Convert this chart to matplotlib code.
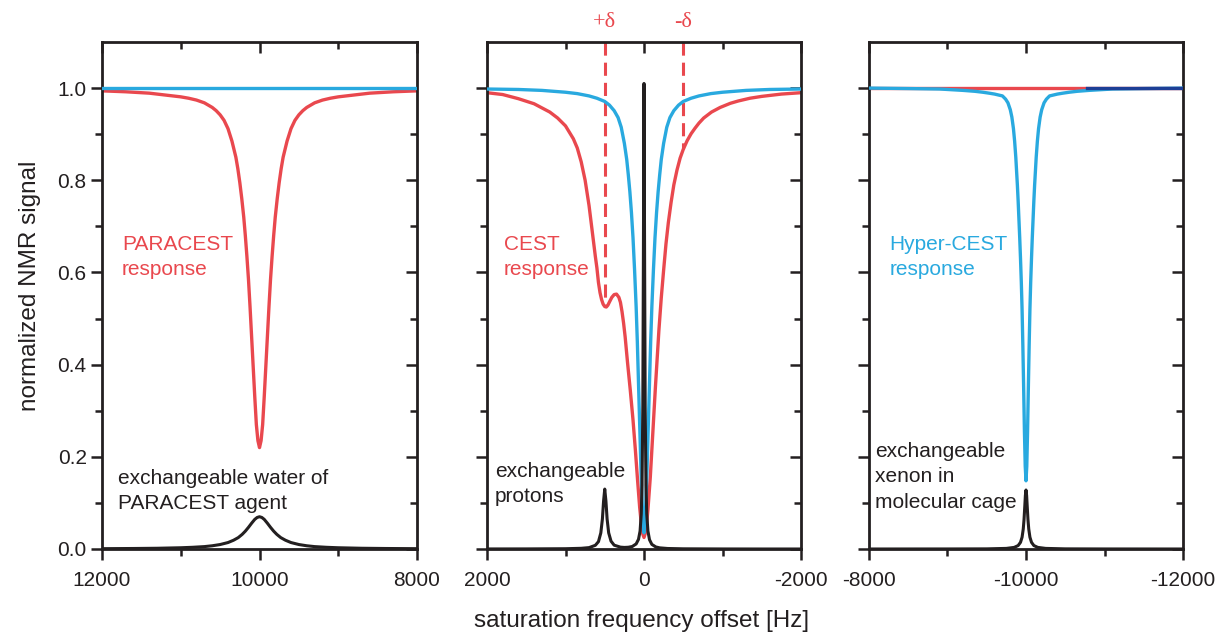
import matplotlib
matplotlib.use('Agg')
import matplotlib.pyplot as plt

plt.rcParams['font.family'] = ['Liberation Sans', 'DejaVu Sans']
plt.rcParams['axes.unicode_minus'] = False

RED = '#e9484e'
BLUE = '#29a9df'
NAVY = '#1d3f96'
INK = '#231f20'

# --- PARACEST panel (Hz, normalized signal) ---
para_hz = [12000, 11700, 11400, 11200, 11000, 10900, 10800, 10700, 10600, 10550,
           10500, 10450, 10400, 10350, 10300, 10275, 10250, 10225, 10200, 10180,
           10160, 10140, 10120, 10100, 10080, 10060, 10040, 10020, 10000,
           9980, 9960, 9940, 9920, 9900, 9880, 9860, 9840, 9820, 9800,
           9775, 9750, 9725, 9700, 9650, 9600, 9550, 9500, 9450, 9400,
           9300, 9200, 9100, 9000, 8800, 8600, 8300, 8000]
para_resp = [0.994, 0.992, 0.989, 0.985, 0.981, 0.978, 0.974, 0.968, 0.958, 0.951,
             0.942, 0.93, 0.912, 0.885, 0.85, 0.825, 0.795, 0.76, 0.72, 0.68,
             0.635, 0.585, 0.525, 0.46, 0.395, 0.33, 0.27, 0.235, 0.22,
             0.235, 0.27, 0.33, 0.395, 0.46, 0.525, 0.585, 0.635, 0.68, 0.72,
             0.76, 0.795, 0.825, 0.85, 0.885, 0.912, 0.93, 0.942, 0.951, 0.958,
             0.968, 0.974, 0.978, 0.981, 0.985, 0.989, 0.992, 0.994]
para_flat_hz = [12000, 8000]
para_flat = [1.0, 1.0]
agent_hz = [12000, 11600, 11300, 11000, 10850, 10700, 10600, 10500, 10400, 10330, 10270, 10220,
            10180, 10140, 10100, 10060, 10030, 10000, 9970, 9940, 9900, 9860, 9820, 9780, 9730,
            9670, 9600, 9500, 9400, 9300, 9150, 9000, 8700, 8400, 8000]
agent = [0.0007, 0.0011, 0.0016, 0.0027, 0.0037, 0.0052, 0.007, 0.0097, 0.014, 0.019, 0.0247, 0.0317,
         0.0387, 0.047, 0.056, 0.0643, 0.0684, 0.07, 0.0684, 0.0643, 0.056, 0.047, 0.0387, 0.0317,
         0.0247, 0.019, 0.014, 0.0097, 0.007, 0.0052, 0.0037, 0.0027, 0.0016, 0.0011, 0.0007]

# --- CEST panel ---
water_hz = [2000, 1600, 1300, 1000, 850, 700, 600, 500, 440, 380, 330, 290, 250, 220, 200, 180,
            160, 140, 120, 100, 85, 70, 55, 40, 25, 12, 0,
            -12, -25, -40, -55, -70, -85, -100, -120, -140, -160, -180, -200, -220, -250, -290,
            -330, -380, -440, -500, -600, -700, -850, -1000, -1300, -1600, -2000]
water = [0.998, 0.997, 0.995, 0.991, 0.988, 0.983, 0.978, 0.971, 0.963, 0.951, 0.936, 0.915, 0.88,
         0.845, 0.812, 0.775, 0.73, 0.675, 0.605, 0.525, 0.45, 0.36, 0.27, 0.18, 0.105, 0.058, 0.035,
         0.058, 0.105, 0.18, 0.27, 0.36, 0.45, 0.525, 0.605, 0.675, 0.73, 0.775, 0.812, 0.845, 0.88,
         0.915, 0.936, 0.951, 0.963, 0.971, 0.978, 0.983, 0.988, 0.991, 0.995, 0.997, 0.998]
cest_hz = [2000, 1800, 1600, 1400, 1200, 1100, 1000, 900, 850, 800, 750, 700, 660, 620, 600, 580,
           560, 540, 520, 500, 480, 460, 440, 410, 380, 350, 320, 300, 280, 260, 240, 210, 175,
           140, 110, 80, 55, 30, 15, 0, -15, -30, -50, -80, -110, -145, -190, -220, -250, -280,
           -310, -345, -380, -420, -460, -500, -550, -600, -650, -700, -760, -860, -970, -1100,
           -1200, -1350, -1500, -1750, -2000]
cest_resp = [0.99, 0.986, 0.977, 0.966, 0.948, 0.935, 0.918, 0.89, 0.87, 0.84, 0.80, 0.745, 0.69,
             0.635, 0.61, 0.578, 0.556, 0.541, 0.531, 0.526, 0.525, 0.529, 0.536, 0.546, 0.552,
             0.553, 0.546, 0.535, 0.515, 0.49, 0.46, 0.405, 0.345, 0.28, 0.215, 0.145, 0.09, 0.048,
             0.032, 0.025, 0.033, 0.05, 0.085, 0.155, 0.245, 0.35, 0.475, 0.545, 0.605, 0.662,
             0.708, 0.752, 0.79, 0.822, 0.848, 0.867, 0.886, 0.901, 0.913, 0.924, 0.935, 0.948,
             0.958, 0.967, 0.972, 0.978, 0.982, 0.987, 0.99]
proton_hz = [2000, 1500, 1000, 800, 700, 620, 580, 550, 530, 515, 500, 485, 470, 450, 420, 380, 300,
             250, 200, 150, 100, 70, 50, 35, 25, 15, 8, 0, -8, -15, -25, -35, -50, -70, -100, -150,
             -200, -300, -500, -1000, -1500, -2000]
protons = [0.0001, 0.0002, 0.0006, 0.0015, 0.003, 0.008, 0.016, 0.035, 0.065, 0.104, 0.13, 0.104,
           0.065, 0.035, 0.017, 0.0083, 0.004, 0.0034, 0.0038, 0.0054, 0.011, 0.021, 0.039, 0.076,
           0.139, 0.31, 0.616, 1.01, 0.616, 0.31, 0.139, 0.076, 0.039, 0.0202, 0.01, 0.0045, 0.0025,
           0.0011, 0.0004, 0.0001, 0.0, 0.0]
delta_hz = [500, -500]
delta_floor = [0.526, 0.867]
delta_text = ['+δ', '-δ']

# --- Hyper-CEST panel ---
xe_hz = [-8000, -8500, -8900, -9100, -9200, -9350, -9450, -9530, -9600, -9650, -9700, -9740, -9770,
         -9800, -9820, -9840, -9855, -9870, -9880, -9890, -9900, -9910, -9920, -9930, -9940, -9950,
         -9960, -9970, -9980, -9990, -10000,
         -10010, -10020, -10030, -10040, -10050, -10060, -10070, -10080, -10090, -10100, -10110,
         -10120, -10130, -10145, -10160, -10180, -10200, -10230, -10260, -10300, -10350, -10400,
         -10470, -10550, -10650, -10800, -10900, -11100, -11500, -12000]
hyper = [1.0, 0.999, 0.998, 0.996, 0.995, 0.993, 0.991, 0.989, 0.987, 0.985, 0.983, 0.976, 0.968,
         0.953, 0.937, 0.912, 0.885, 0.85, 0.82, 0.79, 0.755, 0.715, 0.675, 0.63, 0.58, 0.52,
         0.44, 0.35, 0.255, 0.18, 0.148,
         0.18, 0.255, 0.35, 0.44, 0.52, 0.58, 0.63, 0.675, 0.715, 0.755, 0.79,
         0.82, 0.85, 0.885, 0.912, 0.937, 0.953, 0.968, 0.976, 0.983, 0.985, 0.987,
         0.989, 0.991, 0.993, 0.995, 0.996, 0.998, 0.999, 1.0]
xe_flat_hz = [-8000, -12000]
xe_flat = [1.0, 1.0]
xe_dark_hz = [-10780, -12000]
xe_dark = [1.0, 1.0]
cage_hz = [-8000, -9000, -9500, -9750, -9850, -9900, -9930, -9950, -9965, -9975, -9985, -9992, -10000,
           -10008, -10015, -10025, -10035, -10050, -10070, -10100, -10150, -10250, -10500, -11000, -12000]
cage = [0.0, 0.0001, 0.0003, 0.0013, 0.0035, 0.0075, 0.0145, 0.0256, 0.0433, 0.064, 0.094, 0.116,
        0.128, 0.116, 0.094, 0.064, 0.0433, 0.0256, 0.0145, 0.0075, 0.0035, 0.0013, 0.0003, 0.0001, 0.0]

y_major = [0.0, 0.2, 0.4, 0.6, 0.8, 1.0]
y_minor = [0.1, 0.3, 0.5, 0.7, 0.9]

fig = plt.figure(figsize=(12.21, 6.44), dpi=100)
W, H = 1221.0, 644.0
bottom, height = 1 - 549 / H, 507 / H
ax1 = fig.add_axes([102 / W, bottom, 315 / W, height])
ax2 = fig.add_axes([487 / W, bottom, 314 / W, height])
ax3 = fig.add_axes([869 / W, bottom, 314 / W, height])


def style_axis(ax, xlim, xmajor, xminor, xlabels, show_y):
    ax.set_xlim(*xlim)
    ax.set_ylim(0, 1.1)
    ax.set_xticks(xmajor)
    ax.set_xticklabels(xlabels)
    ax.set_xticks(xminor, minor=True)
    ax.set_yticks(y_major)
    ax.set_yticklabels(['%.1f' % v for v in y_major])
    ax.set_yticks(y_minor, minor=True)
    for s in ax.spines.values():
        s.set_linewidth(2.0)
        s.set_color(INK)
    ax.tick_params(which='both', direction='out', width=1.8, color=INK, labelcolor=INK, labelsize=15)
    ax.tick_params(which='major', length=8)
    ax.tick_params(which='minor', length=5)
    ax.tick_params(axis='x', pad=8)
    ax.tick_params(axis='y', pad=3, labelleft=show_y)

    # ticks on top and right point inward
    top = ax.secondary_xaxis('top')
    top.set_xticks(xmajor)
    top.set_xticks(xminor, minor=True)
    top.tick_params(which='both', direction='in', width=1.8, color=INK, labeltop=False)
    top.tick_params(which='major', length=8)
    top.tick_params(which='minor', length=5)
    top.spines['top'].set_visible(False)
    right = ax.secondary_yaxis('right')
    right.set_yticks(y_major)
    right.set_yticks(y_minor, minor=True)
    right.tick_params(which='both', direction='in', width=1.8, color=INK, labelright=False)
    right.tick_params(which='major', length=8)
    right.tick_params(which='minor', length=5)
    right.spines['right'].set_visible(False)


def yb(py):
    # baseline height in data units from a pixel row
    return (549 - py) / 459.0


# PARACEST
ax1.plot(para_hz, para_resp, color=RED, lw=2.4, zorder=2)
ax1.plot(para_flat_hz, para_flat, color=BLUE, lw=2.4, zorder=3)
ax1.plot(agent_hz, agent, color=INK, lw=2.2, zorder=4)
style_axis(ax1, (12000, 8000), [12000, 10000, 8000], [11000, 9000], ['12000', '10000', '8000'], True)
ax1.text(11746, yb(251), 'PARACEST', color=RED, fontsize=15, va='baseline')
ax1.text(11746, yb(276), 'response', color=RED, fontsize=15, va='baseline')
ax1.text(11797, yb(484.5), 'exchangeable water of', color=INK, fontsize=15, va='baseline')
ax1.text(11797, yb(509.5), 'PARACEST agent', color=INK, fontsize=15, va='baseline')

# CEST
ax2.plot(cest_hz, cest_resp, color=RED, lw=2.4, zorder=2)
ax2.plot(water_hz, water, color=BLUE, lw=2.4, zorder=3)
ax2.plot(proton_hz, protons, color=INK, lw=2.2, zorder=4)
for hz, floor, label in zip(delta_hz, delta_floor, delta_text):
    ax2.plot([hz, hz], [1.1, floor], color=RED, lw=2.2, dashes=(4.3, 2.3), zorder=1, clip_on=False)
    ax2.text(hz, yb(25), label, color=RED, fontsize=16, ha='center', va='center',
             family=['Liberation Serif', 'DejaVu Serif'])
style_axis(ax2, (2000, -2000), [2000, 0, -2000], [1000, -1000], ['2000', '0', '-2000'], False)
ax2.text(1787, yb(251), 'CEST', color=RED, fontsize=15, va='baseline')
ax2.text(1787, yb(276), 'response', color=RED, fontsize=15, va='baseline')
ax2.text(1898, yb(477.5), 'exchangeable', color=INK, fontsize=15, va='baseline')
ax2.text(1898, yb(502.5), 'protons', color=INK, fontsize=15, va='baseline')

# Hyper-CEST
ax3.plot(xe_flat_hz, xe_flat, color=RED, lw=2.4, zorder=2)
ax3.plot(xe_hz, hyper, color=BLUE, lw=2.4, zorder=3)
ax3.plot(xe_dark_hz, xe_dark, color=NAVY, lw=2.4, zorder=3)
ax3.plot(cage_hz, cage, color=INK, lw=2.2, zorder=4)
style_axis(ax3, (-8000, -12000), [-8000, -10000, -12000], [-9000, -11000],
           ['-8000', '-10000', '-12000'], False)
ax3.text(-8259, yb(251), 'Hyper-CEST', color=BLUE, fontsize=15, va='baseline')
ax3.text(-8259, yb(276), 'response', color=BLUE, fontsize=15, va='baseline')
ax3.text(-8080, yb(457), 'exchangeable', color=INK, fontsize=15, va='baseline')
ax3.text(-8080, yb(482.5), 'xenon in', color=INK, fontsize=15, va='baseline')
ax3.text(-8080, yb(508), 'molecular cage', color=INK, fontsize=15, va='baseline')

fig.text(30 / W, 1 - 286 / H, 'normalized NMR signal', rotation=90, fontsize=17.5, color=INK,
         ha='center', va='center')
fig.text(642 / W, 1 - 621 / H, 'saturation frequency offset [Hz]', fontsize=17.5, color=INK,
         ha='center', va='center')

fig.savefig('out.png', dpi=100, facecolor='white')
